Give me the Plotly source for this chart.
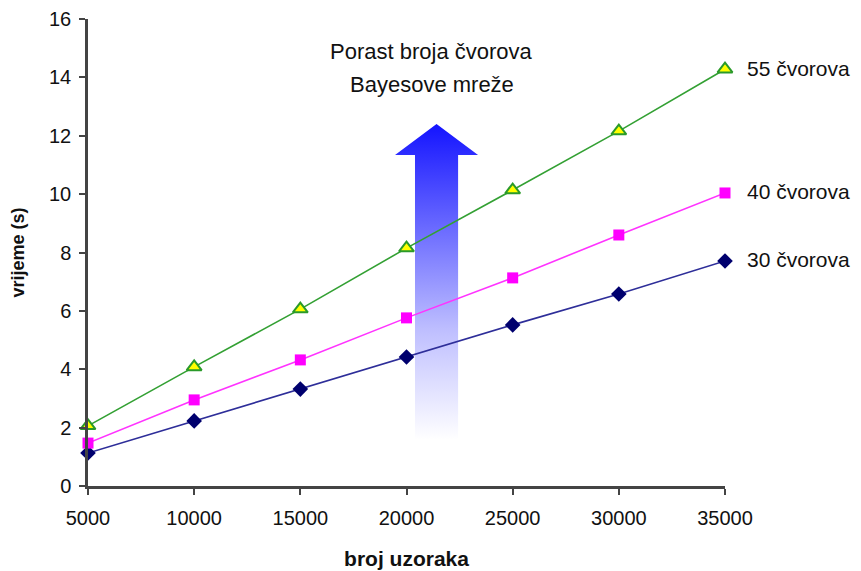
import plotly.graph_objects as go

samples = [5000, 10000, 15000, 20000, 25000, 30000, 35000]
t30 = [1.13, 2.23, 3.32, 4.42, 5.52, 6.58, 7.71]
t40 = [1.47, 2.95, 4.32, 5.76, 7.13, 8.60, 10.04]
t55 = [2.06, 4.08, 6.06, 8.15, 10.14, 12.16, 14.28]
series_names = ["30 čvorova", "40 čvorova", "55 čvorova"]

# arrow decoration (data coordinates)
arrow_x = [20400, 20400, 19460, 21415, 23370, 22430, 22430, 20400]
arrow_y = [1.58, 11.34, 11.34, 12.4, 11.34, 11.34, 1.58, 1.58]

FONT = "Liberation Sans, Arial"

fig = go.Figure()

fig.add_trace(go.Scatter(
    x=arrow_x, y=arrow_y, mode="lines", fill="toself",
    line=dict(width=0, color="rgba(0,0,0,0)"),
    fillgradient=dict(type="vertical", colorscale=[[0, "rgba(255,255,255,1)"], [0.35, "rgb(190,190,255)"], [1, "rgb(20,20,255)"]]),
    hoverinfo="skip", showlegend=False))

fig.add_trace(go.Scatter(x=samples, y=t30, mode="lines+markers", name=series_names[0],
    line=dict(color="#2e2e99", width=1.6),
    marker=dict(symbol="diamond", size=12, color="#00006e"), cliponaxis=False))
fig.add_trace(go.Scatter(x=samples, y=t40, mode="lines+markers", name=series_names[1],
    line=dict(color="#ff33ff", width=1.6),
    marker=dict(symbol="square", size=11, color="#ff00ff"), cliponaxis=False))
fig.add_trace(go.Scatter(x=samples, y=t55, mode="lines+markers", name=series_names[2],
    line=dict(color="#33a033", width=1.6),
    marker=dict(symbol="triangle-up", size=13, color="#ffff00", line=dict(color="#2a9a2a", width=2)), cliponaxis=False))

# right-side labels
for name, ys in zip(series_names, [t30, t40, t55]):
    fig.add_annotation(x=samples[-1], y=ys[-1], xref="x", yref="y", text=name,
                       showarrow=False, xanchor="left", xshift=20, yshift=1,
                       font=dict(family=FONT, size=21, color="#111"))

fig.add_annotation(x=21200, y=14.87, xref="x", yref="y", text="Porast broja čvorova",
                   showarrow=False, font=dict(family=FONT, size=22, color="#111"))
fig.add_annotation(x=21200, y=13.77, xref="x", yref="y", text="Bayesove mreže",
                   showarrow=False, font=dict(family=FONT, size=22, color="#111"))

fig.update_layout(
    width=853, height=563,
    margin=dict(l=80, r=136, t=11, b=85),
    paper_bgcolor="white", plot_bgcolor="white",
    showlegend=False,
    font=dict(family=FONT, size=20, color="#111"),
)
fig.update_xaxes(range=[5000, 35000], tickvals=samples, ticktext=[str(s) for s in samples],
                 showgrid=False, zeroline=False, showline=True, linecolor="#444", linewidth=2.5,
                 ticks="outside", ticklen=6, tickcolor="#444", tickwidth=2, automargin=False,
                 ticklabelstandoff=6,
                 title=dict(text="<b>broj uzoraka</b>", font=dict(size=21), standoff=24),
                 tickfont=dict(size=20))
fig.update_yaxes(range=[0, 16], tickvals=list(range(0, 17, 2)),
                 showgrid=False, zeroline=False, showline=True, linecolor="#444", linewidth=2.5,
                 ticks="outside", ticklen=6, tickcolor="#444", tickwidth=2, automargin=False,
                 ticklabelstandoff=4,
                 title=dict(text="<b>vrijeme (s)</b>", font=dict(size=18), standoff=20),
                 tickfont=dict(size=20))

fig.write_html("out.html")
